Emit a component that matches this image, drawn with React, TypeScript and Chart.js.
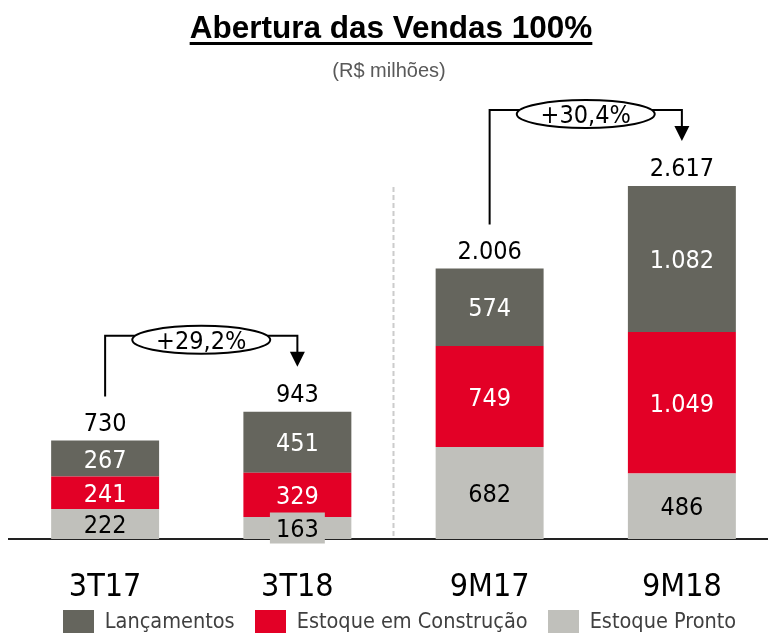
import React, { useEffect, useRef } from "react";
import { Chart, registerables } from "chart.js";

Chart.register(...registerables);

const categories = ["3T17", "3T18", "9M17", "9M18"];
const estoquePronto = [222, 163, 682, 486];
const estoqueConstrucao = [241, 329, 749, 1049];
const lancamentos = [267, 451, 574, 1082];
const totals = [730, 943, 2006, 2617];
const growthLabels = ["+29,2%", "+30,4%"];
const growthPairs = [
  [0, 1],
  [2, 3],
];
const seriesNames = ["Estoque Pronto", "Estoque em Construção", "Lançamentos"];

const COLOR_PRONTO = "#c0c0bb";
const COLOR_CONS = "#e30026";
const COLOR_LANC = "#65655d";
const seriesColors = [COLOR_PRONTO, COLOR_CONS, COLOR_LANC];
const FONT = '"DejaVu Sans Condensed", "DejaVu Sans", sans-serif';
const LABEL_SIZE = 25;

function fmt(n: number): string {
  return String(n).replace(/\B(?=(\d{3})+(?!\d))/g, ".");
}

const annotPlugin = {
  id: "annot",
  beforeDatasetsDraw(chart: any) {
    const { ctx } = chart;
    const x = chart.scales.x;
    const y = chart.scales.y;
    const sx = (x.getPixelForValue(1) + x.getPixelForValue(2)) / 2;
    ctx.save();
    ctx.strokeStyle = "#cccccc";
    ctx.lineWidth = 2;
    ctx.setLineDash([5, 3]);
    ctx.beginPath();
    ctx.moveTo(sx, y.getPixelForValue(2610));
    ctx.lineTo(sx, y.getPixelForValue(0));
    ctx.stroke();
    ctx.restore();
  },
  afterDraw(chart: any) {
    const { ctx } = chart;
    const x = chart.scales.x;
    const y = chart.scales.y;
    ctx.save();
    const textColors = ["#000000", "#ffffff", "#ffffff"];
    ctx.font = `${LABEL_SIZE}px ${FONT}`;
    ctx.textAlign = "center";
    ctx.textBaseline = "alphabetic";
    const capOff = 0.729 * LABEL_SIZE * 0.5;
    chart.data.datasets.forEach((ds: any, i: number) => {
      const meta = chart.getDatasetMeta(i);
      meta.data.forEach((el: any, j: number) => {
        const p = el.getProps(["x", "y", "base"], true);
        const cy = (p.y + p.base) / 2;
        const txt = fmt(ds.data[j]);
        const h = Math.abs(p.base - p.y);
        if (h < 26) {
          const w = ctx.measureText(txt).width + 12;
          ctx.fillStyle = ds.backgroundColor;
          ctx.fillRect(p.x - w / 2, cy - 15.5, w, 31);
        }
        ctx.fillStyle = textColors[i];
        ctx.fillText(txt, p.x, cy + capOff);
      });
    });
    const topMeta = chart.getDatasetMeta(chart.data.datasets.length - 1);
    topMeta.data.forEach((el: any, j: number) => {
      const p = el.getProps(["x", "y"], true);
      ctx.fillStyle = "#000000";
      ctx.fillText(fmt(totals[j]), p.x, p.y - 10);
    });
    growthPairs.forEach(([a, b], k) => {
      const xa = x.getPixelForValue(a);
      const xb = x.getPixelForValue(b);
      const ya = y.getPixelForValue(totals[a]);
      const yb = y.getPixelForValue(totals[b]);
      const lineY = Math.min(ya, yb) - 76;
      const cx = (xa + xb) / 2;
      const cy = lineY + 4;
      const rx = 69;
      const ry = 14;
      ctx.strokeStyle = "#000000";
      ctx.fillStyle = "#000000";
      ctx.lineWidth = 2;
      ctx.beginPath();
      ctx.moveTo(xa, ya - 44);
      ctx.lineTo(xa, lineY);
      ctx.lineTo(xb, lineY);
      ctx.lineTo(xb, yb - 58);
      ctx.stroke();
      ctx.beginPath();
      ctx.moveTo(xb - 7.5, yb - 60);
      ctx.lineTo(xb + 7.5, yb - 60);
      ctx.lineTo(xb, yb - 45);
      ctx.closePath();
      ctx.fill();
      ctx.beginPath();
      ctx.ellipse(cx, cy, rx, ry, 0, 0, Math.PI * 2);
      ctx.fillStyle = "#ffffff";
      ctx.fill();
      ctx.lineWidth = 2;
      ctx.stroke();
      ctx.fillStyle = "#000000";
      ctx.fillText(growthLabels[k], cx, cy + capOff);
    });
    ctx.restore();
  },
};

export default function App() {
  const canvasRef = useRef<HTMLCanvasElement | null>(null);

  useEffect(() => {
    if (!canvasRef.current) return;
    const chart = new Chart(canvasRef.current, {
      type: "bar",
      data: {
        labels: categories,
        datasets: seriesNames.map((name, i) => ({
          label: name,
          data: [estoquePronto, estoqueConstrucao, lancamentos][i],
          backgroundColor: seriesColors[i],
          borderWidth: 0,
        })),
      },
      options: {
        responsive: false,
        animation: false,
        datasets: {
          bar: { categoryPercentage: 1, barPercentage: 0.5616 },
        },
        layout: { padding: { left: 9, right: 12, top: 100, bottom: 0 } },
        scales: {
          x: {
            stacked: true,
            grid: { display: false, drawTicks: false },
            border: { display: true, color: "#222222", width: 2 },
            ticks: {
              color: "#000000",
              font: { family: FONT, size: 32 },
              padding: 29,
            },
            afterFit: (s: any) => {
              s.height = 70;
            },
          },
          y: {
            stacked: true,
            display: false,
            min: 0,
            max: 3255,
          },
        },
        plugins: {
          legend: { display: false },
          tooltip: { enabled: false },
          title: { display: false },
        },
      },
      plugins: [annotPlugin],
    } as any);
    return () => chart.destroy();
  }, []);

  const legendOrder = [2, 1, 0];

  return (
    <div
      style={{
        position: "fixed",
        left: 0,
        top: 0,
        width: 768,
        height: 633,
        overflow: "hidden",
        background: "#ffffff",
      }}
    >
      <div style={{ position: "absolute", left: 0, top: 0, width: 790, height: 609 }}>
        <canvas ref={canvasRef} width={790} height={609} />
      </div>
      <div
        style={{
          position: "absolute",
          left: 0,
          top: 12,
          width: 782,
          textAlign: "center",
          fontFamily: "'Liberation Sans', Arial, sans-serif",
          fontWeight: "bold",
          fontSize: 31.5,
          lineHeight: "31px",
          color: "#000000",
          textDecoration: "underline",
          textDecorationThickness: "3px",
          textUnderlineOffset: "4px",
        }}
      >
        Abertura das Vendas 100%
      </div>
      <div
        style={{
          position: "absolute",
          left: 0,
          top: 60,
          width: 778,
          textAlign: "center",
          fontFamily: "'Liberation Sans', Arial, sans-serif",
          fontSize: 20,
          lineHeight: "21px",
          color: "#595959",
        }}
      >
        (R$ milhões)
      </div>
      <div
        style={{
          position: "absolute",
          left: 0,
          top: 610,
          width: 799,
          display: "flex",
          justifyContent: "center",
          fontFamily: FONT,
          fontSize: 21.5,
          lineHeight: "22px",
          color: "#404040",
          whiteSpace: "nowrap",
        }}
      >
        {legendOrder.map((i, k) => (
          <div
            key={i}
            style={{ display: "flex", alignItems: "flex-start", marginLeft: k === 0 ? 0 : 20 }}
          >
            <span
              style={{
                display: "inline-block",
                width: 31,
                height: 23,
                background: seriesColors[i],
                marginRight: 11,
              }}
            />
            <span>{seriesNames[i]}</span>
          </div>
        ))}
      </div>
    </div>
  );
}
